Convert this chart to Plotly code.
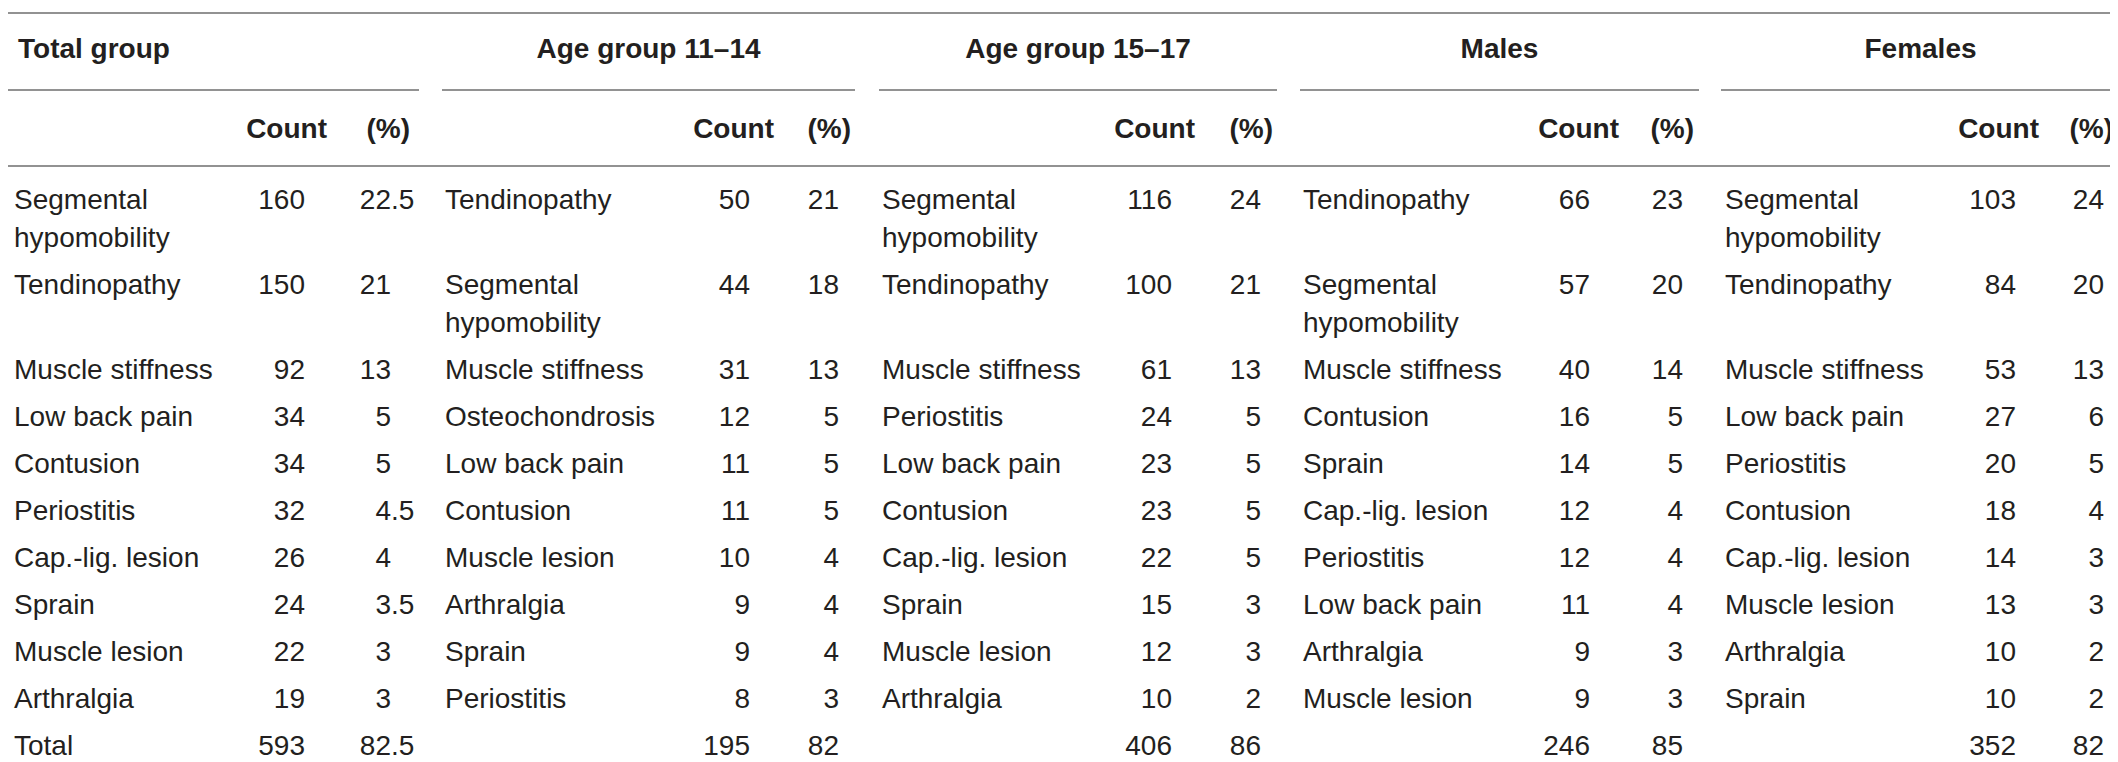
import plotly.graph_objects as go

# ---------------- data ----------------
group_titles = ["Total group", "Age group 11–14", "Age group 15–17", "Males", "Females"]
col_count_label = "Count"
col_pct_label = "(%)"
total_label = "Total"

total_names = ["Segmental hypomobility", "Tendinopathy", "Muscle stiffness", "Low back pain",
               "Contusion", "Periostitis", "Cap.-lig. lesion", "Sprain", "Muscle lesion", "Arthralgia"]
total_counts = [160, 150, 92, 34, 34, 32, 26, 24, 22, 19]
total_pcts = [22.5, 21, 13, 5, 5, 4.5, 4, 3.5, 3, 3]

age1114_names = ["Tendinopathy", "Segmental hypomobility", "Muscle stiffness", "Osteochondrosis",
                 "Low back pain", "Contusion", "Muscle lesion", "Arthralgia", "Sprain", "Periostitis"]
age1114_counts = [50, 44, 31, 12, 11, 11, 10, 9, 9, 8]
age1114_pcts = [21, 18, 13, 5, 5, 5, 4, 4, 4, 3]

age1517_names = ["Segmental hypomobility", "Tendinopathy", "Muscle stiffness", "Periostitis",
                 "Low back pain", "Contusion", "Cap.-lig. lesion", "Sprain", "Muscle lesion", "Arthralgia"]
age1517_counts = [116, 100, 61, 24, 23, 23, 22, 15, 12, 10]
age1517_pcts = [24, 21, 13, 5, 5, 5, 5, 3, 3, 2]

males_names = ["Tendinopathy", "Segmental hypomobility", "Muscle stiffness", "Contusion", "Sprain",
               "Cap.-lig. lesion", "Periostitis", "Low back pain", "Arthralgia", "Muscle lesion"]
males_counts = [66, 57, 40, 16, 14, 12, 12, 11, 9, 9]
males_pcts = [23, 20, 14, 5, 5, 4, 4, 4, 3, 3]

females_names = ["Segmental hypomobility", "Tendinopathy", "Muscle stiffness", "Low back pain",
                 "Periostitis", "Contusion", "Cap.-lig. lesion", "Muscle lesion", "Arthralgia", "Sprain"]
females_counts = [103, 84, 53, 27, 20, 18, 14, 13, 10, 10]
females_pcts = [24, 20, 13, 6, 5, 4, 3, 3, 2, 2]

totals_counts = [593, 195, 406, 246, 352]
totals_pcts = [82.5, 82, 86, 85, 82]

# ---------------- layout / style ----------------
W, H = 2118, 762
FONT = "Liberation Sans, Arial, sans-serif"
FS = 28
TXT = "#231f20"
LINE = "#6e6e6e"

groups = [
    (total_names, total_counts, total_pcts),
    (age1114_names, age1114_counts, age1114_pcts),
    (age1517_names, age1517_counts, age1517_pcts),
    (males_names, males_counts, males_pcts),
    (females_names, females_counts, females_pcts),
]

span = [(0, 411), (434, 847), (871, 1269), (1292, 1691), (1713, 2112)]
name_x = [6, 437, 874, 1295, 1717]
cnt_x = [297, 742, 1164, 1582, 2008]
dec_x = [383, 831, 1253, 1675, 2096]
cnt_hdr_x = [319, 766, 1187, 1611, 2031]
pct_hdr_x = [402, 843, 1265, 1686, 2105]

Y_TITLE, Y_SUB = 43, 123
LINES_Y = (5, 82, 158)
Y_FIRST, LINE_H, ROW_GAP = 194, 38, 47


def wrap(name):
    if len(name) > 18 and " " in name:
        i = name.rfind(" ")
        return [name[:i], name[i + 1:]]
    return [name]


def fmt_parts(v):
    s = ("%g" % v)
    if "." in s:
        a, b = s.split(".")
        return a, "." + b
    return s, ""


n_rows = len(total_names)
row_y = []
y = Y_FIRST
for r in range(n_rows):
    nl = max(len(wrap(g[0][r])) for g in groups)
    row_y.append(y)
    y = y + (nl - 1) * LINE_H + ROW_GAP
total_y = y

left_x, left_y, left_t = [], [], []     # text ending at the point (right aligned)
right_x, right_y, right_t = [], [], []  # text starting at the point (left aligned)


def put_left(x, yy, t):
    left_x.append(x); left_y.append(yy); left_t.append(t)


def put_right(x, yy, t):
    right_x.append(x); right_y.append(yy); right_t.append(t)


for gi, (names, counts, pcts) in enumerate(groups):
    for r in range(n_rows):
        for j, ln in enumerate(wrap(names[r])):
            put_right(name_x[gi], row_y[r] + j * LINE_H, ln)
        put_left(cnt_x[gi], row_y[r], str(counts[r]))
        a, b = fmt_parts(pcts[r])
        put_left(dec_x[gi], row_y[r], a)
        if b:
            put_right(dec_x[gi], row_y[r], b)
    put_left(cnt_x[gi], total_y, str(totals_counts[gi]))
    a, b = fmt_parts(totals_pcts[gi])
    put_left(dec_x[gi], total_y, a)
    if b:
        put_right(dec_x[gi], total_y, b)
put_right(name_x[0], total_y, total_label)

fig = go.Figure()
fig.add_trace(go.Scatter(x=right_x, y=right_y, text=right_t, mode="text",
                         textposition="middle right", hoverinfo="skip",
                         textfont=dict(family=FONT, size=FS, color=TXT), showlegend=False))
fig.add_trace(go.Scatter(x=left_x, y=left_y, text=left_t, mode="text",
                         textposition="middle left", hoverinfo="skip",
                         textfont=dict(family=FONT, size=FS, color=TXT), showlegend=False))

# headers
hx, hy, ht, hp = [], [], [], []
for gi, title in enumerate(group_titles):
    if gi == 0:
        hx.append(10); hp.append("middle right")
    else:
        hx.append((span[gi][0] + span[gi][1]) / 2); hp.append("middle center")
    hy.append(Y_TITLE); ht.append("<b>%s</b>" % title)
    hx.append(cnt_hdr_x[gi]); hy.append(Y_SUB); ht.append("<b>%s</b>" % col_count_label); hp.append("middle left")
    hx.append(pct_hdr_x[gi]); hy.append(Y_SUB); ht.append("<b>%s</b>" % col_pct_label); hp.append("middle left")
fig.add_trace(go.Scatter(x=hx, y=hy, text=ht, mode="text", textposition=hp, hoverinfo="skip",
                         textfont=dict(family=FONT, size=FS, color=TXT), showlegend=False))

# rules
shapes = [
    dict(type="line", xref="x", yref="y", x0=0, x1=2112, y0=LINES_Y[0], y1=LINES_Y[0],
         line=dict(color=LINE, width=1.5)),
    dict(type="line", xref="x", yref="y", x0=0, x1=2112, y0=LINES_Y[2], y1=LINES_Y[2],
         line=dict(color=LINE, width=1.5)),
]
for s0, s1 in span:
    shapes.append(dict(type="line", xref="x", yref="y", x0=s0, x1=s1, y0=LINES_Y[1], y1=LINES_Y[1],
                       line=dict(color=LINE, width=1.5)))

fig.update_layout(
    width=W, height=H, margin=dict(l=0, r=0, t=0, b=0),
    paper_bgcolor="white", plot_bgcolor="white", shapes=shapes,
    xaxis=dict(range=[0, W], visible=False, fixedrange=True),
    yaxis=dict(range=[H, 0], visible=False, fixedrange=True),
)
fig.write_html("out.html")
